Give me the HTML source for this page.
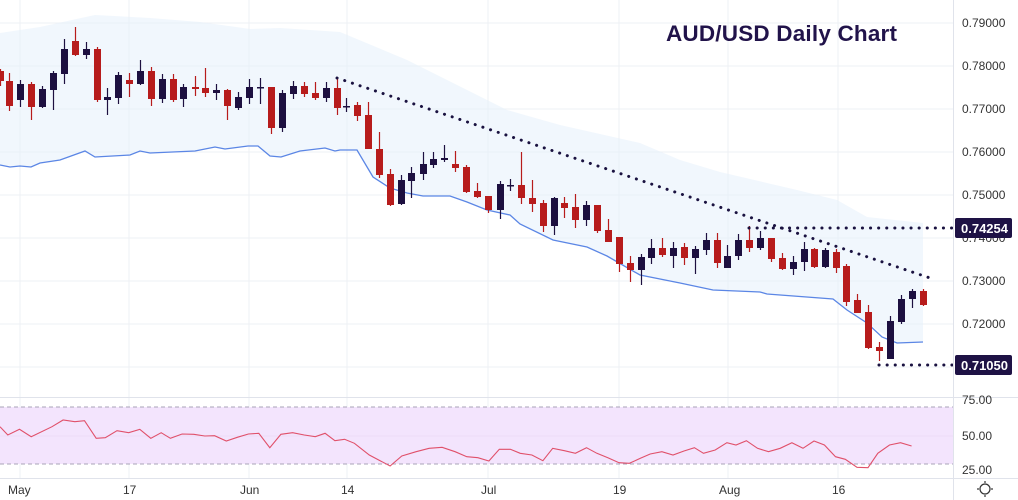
<!DOCTYPE html>
<html><head><meta charset="utf-8"><style>
html,body{margin:0;padding:0;background:#fff;}
svg{display:block;font-family:"Liberation Sans","DejaVu Sans",sans-serif;}
</style></head><body>
<svg id="s" width="1018" height="500" viewBox="0 0 1018 500" xmlns="http://www.w3.org/2000/svg">
<rect width="1018" height="500" fill="#fff"/>
<g stroke="#eef0f4" stroke-width="1">
<line x1="0" y1="23" x2="953" y2="23"/><line x1="0" y1="66" x2="953" y2="66"/><line x1="0" y1="109" x2="953" y2="109"/><line x1="0" y1="152" x2="953" y2="152"/><line x1="0" y1="195" x2="953" y2="195"/><line x1="0" y1="238" x2="953" y2="238"/><line x1="0" y1="281" x2="953" y2="281"/><line x1="0" y1="324" x2="953" y2="324"/><line x1="0" y1="367" x2="953" y2="367"/>
<line x1="20" y1="0" x2="20" y2="478"/><line x1="129" y1="0" x2="129" y2="478"/><line x1="249" y1="0" x2="249" y2="478"/><line x1="347" y1="0" x2="347" y2="478"/><line x1="488" y1="0" x2="488" y2="478"/><line x1="619" y1="0" x2="619" y2="478"/><line x1="728" y1="0" x2="728" y2="478"/><line x1="838" y1="0" x2="838" y2="478"/>
</g>
<polygon fill="#e3f0fc" fill-opacity="0.5" points="0,33 40,27 95,15 150,18 200,22 250,29 280,28 340,32 407,60 473,93 507,110 560,125 640,143 680,160 720,172 797,190 837,200 867,217 923,223 923,342 897,343 867,323 847,310 833,299 767,294 760,292 713,290 680,283 640,275 607,256 587,247 553,240 520,224 510,215 487,210 467,202 450,196 423,196 407,193 373,177 357,150 340,150 325,148 300,151 281,157 270,156 258,146 248,146 225,149 215,147 195,151 150,153 140,151 130,155 95,157 85,151 60,160 40,163 31,167 0,165"/>
<polyline fill="none" stroke="#5b86e5" stroke-width="1.3" points="0,165 10,167 20,166 31,167 40,163 60,160 85,151 95,157 130,155 140,151 150,153 195,151 215,147 225,149 248,146 258,146 270,156 281,157 300,151 325,148 335,151 340,150 357,150 373,177 390,188 407,193 423,196 450,196 467,202 487,210 510,215 520,224 553,240 587,247 607,256 640,275 680,283 713,290 760,292 767,294 833,299 847,310 867,323 882,337 897,343 923,342"/>
<g id="candles"></g>
<line x1="337" y1="78" x2="930" y2="278" stroke="#1a1240" stroke-width="3" stroke-dasharray="0.1 8" stroke-linecap="round"/>
<line x1="749" y1="228" x2="952" y2="228" stroke="#1a1240" stroke-width="3" stroke-dasharray="0.1 8" stroke-linecap="round"/>
<line x1="879" y1="365" x2="952" y2="365" stroke="#1a1240" stroke-width="3" stroke-dasharray="0.1 8" stroke-linecap="round"/>
<text x="666" y="41" font-size="22.5" font-weight="bold" fill="#21134a" textLength="231" lengthAdjust="spacing">AUD/USD Daily Chart</text>
<line x1="953.5" y1="0" x2="953.5" y2="500" stroke="#e0e3eb"/>
<line x1="0" y1="397.5" x2="1018" y2="397.5" stroke="#e0e3eb"/>
<line x1="0" y1="478.5" x2="1018" y2="478.5" stroke="#e0e3eb"/>
<g font-size="12" fill="#333">
<text x="962" y="27">0.79000</text><text x="962" y="70">0.78000</text><text x="962" y="113">0.77000</text><text x="962" y="156">0.76000</text><text x="962" y="199">0.75000</text><text x="962" y="242">0.74000</text><text x="962" y="285">0.73000</text><text x="962" y="328">0.72000</text>
</g>
<rect x="955" y="218" width="57" height="20" fill="#1e1245" rx="2"/>
<text x="961" y="233" font-size="13" font-weight="bold" fill="#fff">0.74254</text>
<rect x="955" y="355" width="57" height="20" fill="#1e1245" rx="2"/>
<text x="961" y="370" font-size="13" font-weight="bold" fill="#fff">0.71050</text>
<rect x="0" y="407" width="953" height="57" fill="#f3e4fd"/>
<line x1="0" y1="407" x2="953" y2="407" stroke="#a9a3b8" stroke-dasharray="4 3"/>
<line x1="0" y1="464" x2="953" y2="464" stroke="#a9a3b8" stroke-dasharray="4 3"/>
<line x1="0" y1="436" x2="953" y2="436" stroke="#ecdcf7"/>
<polyline id="rsi" fill="none" stroke="#e0506a" stroke-width="1.1" points=""/>
<g font-size="12" fill="#333">
<text x="962" y="404">75.00</text><text x="962" y="440">50.00</text><text x="962" y="474">25.00</text>
<text x="8" y="494">May</text><text x="123" y="494">17</text><text x="240" y="494">Jun</text><text x="341" y="494">14</text><text x="481" y="494">Jul</text><text x="613" y="494">19</text><text x="719" y="494">Aug</text><text x="832" y="494">16</text>
</g>
<circle cx="985" cy="489" r="5" fill="none" stroke="#333" stroke-width="1.2"/>
<g stroke="#333" stroke-width="1.2"><line x1="985" y1="481" x2="985" y2="483"/><line x1="985" y1="495" x2="985" y2="497"/><line x1="977" y1="489" x2="979" y2="489"/><line x1="991" y1="489" x2="993" y2="489"/></g>
</svg>
<script>
var C=[[0,'r',71,81,69,86],[9,'r',81,106,73,111],[20,'d',84,100,80,107],[31,'r',84,107,82,120],[42,'d',89,107,86,108],[53,'d',73,90,71,110],[64,'d',49,74,39,84],[75,'r',41,55,27,56],[86,'d',49,55,42,59],[97,'r',49,100,47,102],[107,'d',97,100,88,115],[118,'d',75,98,72,104],[129,'r',80,84,73,97],[140,'d',71,84,60,85],[151,'r',71,99,67,106],[162,'d',79,99,74,103],[173,'r',79,100,74,102],[183,'d',87,99,84,107],[195,'r',87,89,76,96],[205,'r',88,93,68,97],[216,'d',90,93,84,100],[227,'r',90,106,89,120],[238,'d',97,108,92,110],[249,'d',87,98,79,104],[260,'d',87,88,78,104],[271,'r',87,128,87,134],[282,'d',93,128,90,132],[293,'d',86,94,81,99],[304,'r',86,94,82,97],[315,'r',93,98,82,100],[326,'d',88,98,82,102],[337,'r',88,108,79,115],
[346,'d',106,107,98,112],[357,'r',105,116,102,121],[368,'r',115,149,102,149],[379,'r',149,175,132,178],[390,'r',174,205,169,206],[401,'d',180,204,175,205],[411,'d',173,181,167,198],[423,'d',164,174,152,180],[433,'d',159,165,152,168],[444,'d',158,160,145,162],[455,'r',164,168,151,172],[466,'r',167,192,165,193],[477,'r',191,197,183,198],[488,'r',196,210,196,213],[500,'d',184,210,181,219],[510,'d',185,186,179,191],[521,'r',185,198,152,204],[532,'r',198,204,180,212],[543,'r',203,226,200,232],[554,'d',198,226,197,235],[564,'r',203,208,197,218],[575,'r',207,220,194,228],[586,'d',205,220,201,226],[597,'r',205,231,205,233],[608,'r',230,242,219,242],[619,'r',237,264,237,272],[630,'r',263,270,256,282],[641,'d',257,270,254,285],[651,'d',248,258,239,264],[662,'r',248,255,238,257],[673,'d',248,256,242,268],
[684,'r',247,258,243,265],[695,'d',249,258,246,274],[706,'d',240,250,233,255],[717,'r',240,263,233,268],[727,'d',256,268,245,268],[738,'d',240,256,234,260],[749,'r',240,248,226,252],[760,'d',238,248,231,250],[771,'r',238,259,238,262],[782,'r',258,269,253,270],[793,'d',262,269,256,275],[804,'d',249,262,242,271],[814,'r',249,267,248,268],[825,'d',250,267,248,268],[836,'r',252,268,249,273],[846,'r',266,302,264,306],[857,'r',300,313,294,313],[868,'r',312,348,305,349],[879,'r',347,351,342,361],[890,'d',321,359,316,359],[901,'d',299,322,295,324],[912,'d',291,299,289,308],[923,'r',291,305,289,306]];
var g=document.getElementById('candles'),h='';
C.forEach(function(c){var col=c[1]=='r'?'#b71c1c':'#1d1040';var bh=Math.max(1.5,c[3]-c[2]);
h+='<line x1="'+(c[0]+0.5)+'" x2="'+(c[0]+0.5)+'" y1="'+c[4]+'" y2="'+c[5]+'" stroke="'+col+'" stroke-width="1.2"/>';
h+='<rect x="'+(c[0]-3)+'" y="'+c[2]+'" width="7" height="'+bh+'" fill="'+col+'"/>';});
g.innerHTML=h;
var R=[[0,110],[12,135],[30,118],[48,140],[80,110],[97,90],[115,95],[130,92],[148,145],[162,143],[180,122],[198,128],[215,118],[232,145],[248,128],[262,145],[280,132],[298,133],[315,138],[330,137],[348,153],[365,142],[382,132],[398,130],[415,173],[432,133],[450,128],[468,135],[485,140],[500,130],[515,152],[530,148],[545,160],[568,195],[600,228],[618,198],[640,185],[660,175],[680,172],[700,185],[718,200],[735,203],[752,213],[768,178],[785,178],[800,190],[818,195],[835,212],[850,175],[868,182],[885,190],[902,173],[918,190],[935,203],[952,218],[968,220],[985,205],[1000,192],[1018,185],[1035,195],[1052,183],[1068,173],[1082,190],[1100,180],[1118,158],[1132,165],[1148,152],[1165,175],[1182,185],[1200,175],[1218,158],[1235,175],[1252,153],[1268,165],[1285,200],[1300,208],[1318,232],[1335,233],[1350,190],[1368,165],[1385,158],[1402,168]];
document.getElementById('rsi').setAttribute('points',R.map(function(p){return (p[0]/1.538).toFixed(1)+','+(p[1]/3+390).toFixed(1)}).join(' '));
</script>
</body></html>
